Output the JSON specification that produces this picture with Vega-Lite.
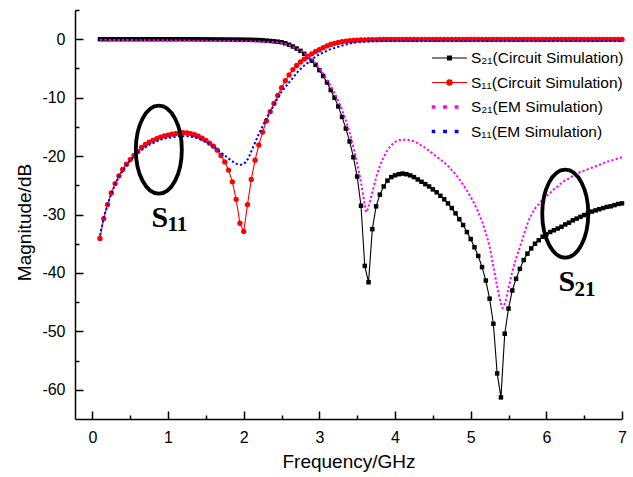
{
"$schema":"https://vega.github.io/schema/vega-lite/v6.json",
"width":547,"height":409,
"autosize":{"type":"none"},
"padding":{"left":75,"top":10,"right":11,"bottom":58},
"config":{"view":{"stroke":null},"font":"Liberation Sans","axis":{"grid":false}},
"datasets":{
"curves":[
{"k":"c21","f":0.1,"v":0},{"k":"c21","f":0.15,"v":0},{"k":"c21","f":0.2,"v":0},{"k":"c21","f":0.25,"v":0},{"k":"c21","f":0.3,"v":0},{"k":"c21","f":0.35,"v":0},{"k":"c21","f":0.4,"v":0},{"k":"c21","f":0.45,"v":0},{"k":"c21","f":0.5,"v":0},{"k":"c21","f":0.55,"v":0},{"k":"c21","f":0.6,"v":0},{"k":"c21","f":0.65,"v":0},{"k":"c21","f":0.7,"v":0},{"k":"c21","f":0.75,"v":0},{"k":"c21","f":0.8,"v":0},{"k":"c21","f":0.85,"v":0},{"k":"c21","f":0.9,"v":0},{"k":"c21","f":0.95,"v":0},{"k":"c21","f":1.0,"v":0},{"k":"c21","f":1.05,"v":0},{"k":"c21","f":1.1,"v":0},{"k":"c21","f":1.15,"v":0},{"k":"c21","f":1.2,"v":0},{"k":"c21","f":1.25,"v":0},{"k":"c21","f":1.3,"v":0},{"k":"c21","f":1.35,"v":-0.01},{"k":"c21","f":1.4,"v":-0.01},{"k":"c21","f":1.45,"v":-0.02},{"k":"c21","f":1.5,"v":-0.02},{"k":"c21","f":1.55,"v":-0.03},{"k":"c21","f":1.6,"v":-0.03},{"k":"c21","f":1.65,"v":-0.04},{"k":"c21","f":1.7,"v":-0.04},{"k":"c21","f":1.75,"v":-0.05},{"k":"c21","f":1.8,"v":-0.05},{"k":"c21","f":1.85,"v":-0.06},{"k":"c21","f":1.9,"v":-0.06},{"k":"c21","f":1.95,"v":-0.07},{"k":"c21","f":2.0,"v":-0.08},{"k":"c21","f":2.05,"v":-0.09},{"k":"c21","f":2.1,"v":-0.1},{"k":"c21","f":2.15,"v":-0.12},{"k":"c21","f":2.2,"v":-0.15},{"k":"c21","f":2.25,"v":-0.19},{"k":"c21","f":2.3,"v":-0.24},{"k":"c21","f":2.35,"v":-0.3},{"k":"c21","f":2.4,"v":-0.36},{"k":"c21","f":2.45,"v":-0.43},{"k":"c21","f":2.5,"v":-0.52},{"k":"c21","f":2.55,"v":-0.7},{"k":"c21","f":2.6,"v":-0.95},{"k":"c21","f":2.65,"v":-1.25},{"k":"c21","f":2.7,"v":-1.6},{"k":"c21","f":2.75,"v":-2.0},{"k":"c21","f":2.8,"v":-2.5},{"k":"c21","f":2.85,"v":-3.05},{"k":"c21","f":2.9,"v":-3.7},{"k":"c21","f":2.95,"v":-4.4},{"k":"c21","f":3.0,"v":-5.3},{"k":"c21","f":3.05,"v":-6.3},{"k":"c21","f":3.1,"v":-7.4},{"k":"c21","f":3.15,"v":-8.7},{"k":"c21","f":3.2,"v":-10.0},{"k":"c21","f":3.25,"v":-11.5},{"k":"c21","f":3.3,"v":-13.3},{"k":"c21","f":3.35,"v":-15.3},{"k":"c21","f":3.4,"v":-17.5},{"k":"c21","f":3.45,"v":-20.2},{"k":"c21","f":3.5,"v":-23.5},{"k":"c21","f":3.55,"v":-28.5},{"k":"c21","f":3.6,"v":-38.8},{"k":"c21","f":3.65,"v":-41.6},{"k":"c21","f":3.7,"v":-32.5},{"k":"c21","f":3.75,"v":-28.6},{"k":"c21","f":3.8,"v":-26.6},{"k":"c21","f":3.85,"v":-25.2},{"k":"c21","f":3.9,"v":-24.2},{"k":"c21","f":3.95,"v":-23.6},{"k":"c21","f":4.0,"v":-23.3},{"k":"c21","f":4.05,"v":-23.1},{"k":"c21","f":4.1,"v":-23.0},{"k":"c21","f":4.15,"v":-23.1},{"k":"c21","f":4.2,"v":-23.3},{"k":"c21","f":4.25,"v":-23.6},{"k":"c21","f":4.3,"v":-24.0},{"k":"c21","f":4.35,"v":-24.4},{"k":"c21","f":4.4,"v":-24.8},{"k":"c21","f":4.45,"v":-25.2},{"k":"c21","f":4.5,"v":-25.7},{"k":"c21","f":4.55,"v":-26.2},{"k":"c21","f":4.6,"v":-26.8},{"k":"c21","f":4.65,"v":-27.4},{"k":"c21","f":4.7,"v":-28.1},{"k":"c21","f":4.75,"v":-28.9},{"k":"c21","f":4.8,"v":-29.8},{"k":"c21","f":4.85,"v":-30.8},{"k":"c21","f":4.9,"v":-31.8},{"k":"c21","f":4.95,"v":-33.0},{"k":"c21","f":5.0,"v":-34.2},{"k":"c21","f":5.05,"v":-35.6},{"k":"c21","f":5.1,"v":-37.1},{"k":"c21","f":5.15,"v":-39.0},{"k":"c21","f":5.2,"v":-41.3},{"k":"c21","f":5.25,"v":-44.4},{"k":"c21","f":5.3,"v":-48.7},{"k":"c21","f":5.35,"v":-57.2},{"k":"c21","f":5.4,"v":-61.3},{"k":"c21","f":5.45,"v":-50.4},{"k":"c21","f":5.5,"v":-46.1},{"k":"c21","f":5.55,"v":-43.0},{"k":"c21","f":5.6,"v":-41.0},{"k":"c21","f":5.65,"v":-39.3},{"k":"c21","f":5.7,"v":-37.8},{"k":"c21","f":5.75,"v":-36.7},{"k":"c21","f":5.8,"v":-35.8},{"k":"c21","f":5.85,"v":-35.0},{"k":"c21","f":5.9,"v":-34.4},{"k":"c21","f":5.95,"v":-33.8},{"k":"c21","f":6.0,"v":-33.4},{"k":"c21","f":6.05,"v":-33.0},{"k":"c21","f":6.1,"v":-32.7},{"k":"c21","f":6.15,"v":-32.4},{"k":"c21","f":6.2,"v":-32.1},{"k":"c21","f":6.25,"v":-31.7},{"k":"c21","f":6.3,"v":-31.4},{"k":"c21","f":6.35,"v":-31.0},{"k":"c21","f":6.4,"v":-30.7},{"k":"c21","f":6.45,"v":-30.4},{"k":"c21","f":6.5,"v":-30.1},{"k":"c21","f":6.55,"v":-29.8},{"k":"c21","f":6.6,"v":-29.5},{"k":"c21","f":6.65,"v":-29.3},{"k":"c21","f":6.7,"v":-29.1},{"k":"c21","f":6.75,"v":-28.9},{"k":"c21","f":6.8,"v":-28.7},{"k":"c21","f":6.85,"v":-28.6},{"k":"c21","f":6.9,"v":-28.4},{"k":"c21","f":6.95,"v":-28.2},{"k":"c21","f":7.0,"v":-28.1},
{"k":"c11","f":0.1,"v":-34.1},{"k":"c11","f":0.15,"v":-30.7},{"k":"c11","f":0.2,"v":-28.3},{"k":"c11","f":0.25,"v":-26.3},{"k":"c11","f":0.3,"v":-24.7},{"k":"c11","f":0.35,"v":-23.4},{"k":"c11","f":0.4,"v":-22.3},{"k":"c11","f":0.45,"v":-21.4},{"k":"c11","f":0.5,"v":-20.6},{"k":"c11","f":0.55,"v":-19.9},{"k":"c11","f":0.6,"v":-19.2},{"k":"c11","f":0.65,"v":-18.5},{"k":"c11","f":0.7,"v":-18.0},{"k":"c11","f":0.75,"v":-17.6},{"k":"c11","f":0.8,"v":-17.3},{"k":"c11","f":0.85,"v":-17.0},{"k":"c11","f":0.9,"v":-16.75},{"k":"c11","f":0.95,"v":-16.55},{"k":"c11","f":1.0,"v":-16.4},{"k":"c11","f":1.05,"v":-16.25},{"k":"c11","f":1.1,"v":-16.15},{"k":"c11","f":1.15,"v":-16.05},{"k":"c11","f":1.2,"v":-16.0},{"k":"c11","f":1.25,"v":-16.05},{"k":"c11","f":1.3,"v":-16.15},{"k":"c11","f":1.35,"v":-16.35},{"k":"c11","f":1.4,"v":-16.6},{"k":"c11","f":1.45,"v":-16.95},{"k":"c11","f":1.5,"v":-17.3},{"k":"c11","f":1.55,"v":-17.8},{"k":"c11","f":1.6,"v":-18.3},{"k":"c11","f":1.65,"v":-19.0},{"k":"c11","f":1.7,"v":-19.9},{"k":"c11","f":1.75,"v":-21.0},{"k":"c11","f":1.8,"v":-22.4},{"k":"c11","f":1.85,"v":-24.4},{"k":"c11","f":1.9,"v":-27.4},{"k":"c11","f":1.95,"v":-31.5},{"k":"c11","f":2.0,"v":-32.9},{"k":"c11","f":2.05,"v":-28.3},{"k":"c11","f":2.1,"v":-24.0},{"k":"c11","f":2.15,"v":-20.7},{"k":"c11","f":2.2,"v":-18.1},{"k":"c11","f":2.25,"v":-15.9},{"k":"c11","f":2.3,"v":-14.0},{"k":"c11","f":2.35,"v":-12.4},{"k":"c11","f":2.4,"v":-11.0},{"k":"c11","f":2.45,"v":-9.6},{"k":"c11","f":2.5,"v":-8.3},{"k":"c11","f":2.55,"v":-7.1},{"k":"c11","f":2.6,"v":-6.1},{"k":"c11","f":2.65,"v":-5.2},{"k":"c11","f":2.7,"v":-4.5},{"k":"c11","f":2.75,"v":-3.9},{"k":"c11","f":2.8,"v":-3.4},{"k":"c11","f":2.85,"v":-2.9},{"k":"c11","f":2.9,"v":-2.5},{"k":"c11","f":2.95,"v":-2.1},{"k":"c11","f":3.0,"v":-1.8},{"k":"c11","f":3.05,"v":-1.45},{"k":"c11","f":3.1,"v":-1.15},{"k":"c11","f":3.15,"v":-0.9},{"k":"c11","f":3.2,"v":-0.7},{"k":"c11","f":3.25,"v":-0.55},{"k":"c11","f":3.3,"v":-0.42},{"k":"c11","f":3.35,"v":-0.32},{"k":"c11","f":3.4,"v":-0.25},{"k":"c11","f":3.45,"v":-0.2},{"k":"c11","f":3.5,"v":-0.15},{"k":"c11","f":3.55,"v":-0.12},{"k":"c11","f":3.6,"v":-0.1},{"k":"c11","f":3.65,"v":-0.08},{"k":"c11","f":3.7,"v":-0.07},{"k":"c11","f":3.75,"v":-0.06},{"k":"c11","f":3.8,"v":-0.05},{"k":"c11","f":3.85,"v":-0.05},{"k":"c11","f":3.9,"v":-0.05},{"k":"c11","f":3.95,"v":-0.05},{"k":"c11","f":4.0,"v":-0.05},{"k":"c11","f":4.05,"v":-0.05},{"k":"c11","f":4.1,"v":-0.05},{"k":"c11","f":4.15,"v":-0.05},{"k":"c11","f":4.2,"v":-0.05},{"k":"c11","f":4.25,"v":-0.05},{"k":"c11","f":4.3,"v":-0.05},{"k":"c11","f":4.35,"v":-0.05},{"k":"c11","f":4.4,"v":-0.05},{"k":"c11","f":4.45,"v":-0.05},{"k":"c11","f":4.5,"v":-0.05},{"k":"c11","f":4.55,"v":-0.05},{"k":"c11","f":4.6,"v":-0.05},{"k":"c11","f":4.65,"v":-0.05},{"k":"c11","f":4.7,"v":-0.05},{"k":"c11","f":4.75,"v":-0.05},{"k":"c11","f":4.8,"v":-0.05},{"k":"c11","f":4.85,"v":-0.05},{"k":"c11","f":4.9,"v":-0.05},{"k":"c11","f":4.95,"v":-0.05},{"k":"c11","f":5.0,"v":-0.05},{"k":"c11","f":5.05,"v":-0.05},{"k":"c11","f":5.1,"v":-0.05},{"k":"c11","f":5.15,"v":-0.05},{"k":"c11","f":5.2,"v":-0.05},{"k":"c11","f":5.25,"v":-0.05},{"k":"c11","f":5.3,"v":-0.05},{"k":"c11","f":5.35,"v":-0.05},{"k":"c11","f":5.4,"v":-0.05},{"k":"c11","f":5.45,"v":-0.05},{"k":"c11","f":5.5,"v":-0.05},{"k":"c11","f":5.55,"v":-0.05},{"k":"c11","f":5.6,"v":-0.05},{"k":"c11","f":5.65,"v":-0.05},{"k":"c11","f":5.7,"v":-0.05},{"k":"c11","f":5.75,"v":-0.05},{"k":"c11","f":5.8,"v":-0.05},{"k":"c11","f":5.85,"v":-0.05},{"k":"c11","f":5.9,"v":-0.05},{"k":"c11","f":5.95,"v":-0.05},{"k":"c11","f":6.0,"v":-0.05},{"k":"c11","f":6.05,"v":-0.05},{"k":"c11","f":6.1,"v":-0.05},{"k":"c11","f":6.15,"v":-0.05},{"k":"c11","f":6.2,"v":-0.05},{"k":"c11","f":6.25,"v":-0.05},{"k":"c11","f":6.3,"v":-0.05},{"k":"c11","f":6.35,"v":-0.05},{"k":"c11","f":6.4,"v":-0.05},{"k":"c11","f":6.45,"v":-0.05},{"k":"c11","f":6.5,"v":-0.05},{"k":"c11","f":6.55,"v":-0.05},{"k":"c11","f":6.6,"v":-0.05},{"k":"c11","f":6.65,"v":-0.05},{"k":"c11","f":6.7,"v":-0.05},{"k":"c11","f":6.75,"v":-0.05},{"k":"c11","f":6.8,"v":-0.05},{"k":"c11","f":6.85,"v":-0.05},{"k":"c11","f":6.9,"v":-0.05},{"k":"c11","f":6.95,"v":-0.05},{"k":"c11","f":7.0,"v":-0.05},
{"k":"e21","f":0.1,"v":-0.1},{"k":"e21","f":0.5,"v":-0.15},{"k":"e21","f":1.0,"v":-0.2},{"k":"e21","f":1.5,"v":-0.28},{"k":"e21","f":2.0,"v":-0.35},{"k":"e21","f":2.2,"v":-0.4},{"k":"e21","f":2.3,"v":-0.45},{"k":"e21","f":2.4,"v":-0.5},{"k":"e21","f":2.45,"v":-0.55},{"k":"e21","f":2.5,"v":-0.62},{"k":"e21","f":2.55,"v":-0.8},{"k":"e21","f":2.6,"v":-1.0},{"k":"e21","f":2.65,"v":-1.3},{"k":"e21","f":2.7,"v":-1.6},{"k":"e21","f":2.75,"v":-2.0},{"k":"e21","f":2.8,"v":-2.4},{"k":"e21","f":2.85,"v":-2.9},{"k":"e21","f":2.9,"v":-3.5},{"k":"e21","f":2.95,"v":-4.2},{"k":"e21","f":3.0,"v":-5.0},{"k":"e21","f":3.05,"v":-5.9},{"k":"e21","f":3.1,"v":-6.9},{"k":"e21","f":3.15,"v":-8.0},{"k":"e21","f":3.2,"v":-9.2},{"k":"e21","f":3.25,"v":-10.6},{"k":"e21","f":3.3,"v":-12.1},{"k":"e21","f":3.35,"v":-13.9},{"k":"e21","f":3.4,"v":-16.0},{"k":"e21","f":3.45,"v":-18.5},{"k":"e21","f":3.5,"v":-21.3},{"k":"e21","f":3.55,"v":-24.5},{"k":"e21","f":3.6,"v":-28.3},{"k":"e21","f":3.62,"v":-29.6},{"k":"e21","f":3.65,"v":-28.6},{"k":"e21","f":3.7,"v":-26.2},{"k":"e21","f":3.75,"v":-23.7},{"k":"e21","f":3.8,"v":-21.7},{"k":"e21","f":3.85,"v":-20.2},{"k":"e21","f":3.9,"v":-19.0},{"k":"e21","f":3.95,"v":-18.2},{"k":"e21","f":4.0,"v":-17.6},{"k":"e21","f":4.05,"v":-17.3},{"k":"e21","f":4.1,"v":-17.2},{"k":"e21","f":4.15,"v":-17.2},{"k":"e21","f":4.2,"v":-17.3},{"k":"e21","f":4.25,"v":-17.5},{"k":"e21","f":4.3,"v":-17.8},{"k":"e21","f":4.35,"v":-18.2},{"k":"e21","f":4.4,"v":-18.6},{"k":"e21","f":4.45,"v":-19.1},{"k":"e21","f":4.5,"v":-19.6},{"k":"e21","f":4.55,"v":-20.1},{"k":"e21","f":4.6,"v":-20.6},{"k":"e21","f":4.65,"v":-21.1},{"k":"e21","f":4.7,"v":-21.7},{"k":"e21","f":4.75,"v":-22.4},{"k":"e21","f":4.8,"v":-23.1},{"k":"e21","f":4.85,"v":-24.0},{"k":"e21","f":4.9,"v":-24.9},{"k":"e21","f":4.95,"v":-25.9},{"k":"e21","f":5.0,"v":-27.0},{"k":"e21","f":5.05,"v":-28.2},{"k":"e21","f":5.1,"v":-29.6},{"k":"e21","f":5.15,"v":-31.2},{"k":"e21","f":5.2,"v":-33.2},{"k":"e21","f":5.25,"v":-35.5},{"k":"e21","f":5.3,"v":-38.9},{"k":"e21","f":5.35,"v":-42.3},{"k":"e21","f":5.4,"v":-45.2},{"k":"e21","f":5.42,"v":-46.0},{"k":"e21","f":5.45,"v":-45.3},{"k":"e21","f":5.5,"v":-42.6},{"k":"e21","f":5.55,"v":-39.8},{"k":"e21","f":5.6,"v":-37.5},{"k":"e21","f":5.65,"v":-35.6},{"k":"e21","f":5.7,"v":-33.6},{"k":"e21","f":5.75,"v":-31.6},{"k":"e21","f":5.8,"v":-30.1},{"k":"e21","f":5.85,"v":-29.0},{"k":"e21","f":5.9,"v":-28.2},{"k":"e21","f":5.95,"v":-27.5},{"k":"e21","f":6.0,"v":-26.9},{"k":"e21","f":6.05,"v":-26.3},{"k":"e21","f":6.1,"v":-25.7},{"k":"e21","f":6.15,"v":-25.2},{"k":"e21","f":6.2,"v":-24.6},{"k":"e21","f":6.3,"v":-23.8},{"k":"e21","f":6.4,"v":-23.0},{"k":"e21","f":6.5,"v":-22.5},{"k":"e21","f":6.6,"v":-22.0},{"k":"e21","f":6.7,"v":-21.5},{"k":"e21","f":6.8,"v":-21.0},{"k":"e21","f":6.9,"v":-20.6},{"k":"e21","f":7.0,"v":-20.2},
{"k":"e11","f":0.1,"v":-33.6},{"k":"e11","f":0.15,"v":-30.6},{"k":"e11","f":0.2,"v":-28.4},{"k":"e11","f":0.25,"v":-26.5},{"k":"e11","f":0.3,"v":-24.9},{"k":"e11","f":0.35,"v":-23.6},{"k":"e11","f":0.4,"v":-22.5},{"k":"e11","f":0.45,"v":-21.6},{"k":"e11","f":0.5,"v":-20.8},{"k":"e11","f":0.55,"v":-20.1},{"k":"e11","f":0.6,"v":-19.5},{"k":"e11","f":0.65,"v":-19.0},{"k":"e11","f":0.7,"v":-18.5},{"k":"e11","f":0.75,"v":-18.1},{"k":"e11","f":0.8,"v":-17.8},{"k":"e11","f":0.85,"v":-17.5},{"k":"e11","f":0.9,"v":-17.2},{"k":"e11","f":0.95,"v":-17.0},{"k":"e11","f":1.0,"v":-16.9},{"k":"e11","f":1.05,"v":-16.8},{"k":"e11","f":1.1,"v":-16.7},{"k":"e11","f":1.15,"v":-16.6},{"k":"e11","f":1.2,"v":-16.6},{"k":"e11","f":1.25,"v":-16.6},{"k":"e11","f":1.3,"v":-16.7},{"k":"e11","f":1.35,"v":-16.8},{"k":"e11","f":1.4,"v":-17.0},{"k":"e11","f":1.45,"v":-17.3},{"k":"e11","f":1.5,"v":-17.6},{"k":"e11","f":1.55,"v":-18.0},{"k":"e11","f":1.6,"v":-18.4},{"k":"e11","f":1.65,"v":-18.9},{"k":"e11","f":1.7,"v":-19.4},{"k":"e11","f":1.75,"v":-19.9},{"k":"e11","f":1.8,"v":-20.4},{"k":"e11","f":1.85,"v":-20.9},{"k":"e11","f":1.9,"v":-21.3},{"k":"e11","f":1.95,"v":-21.5},{"k":"e11","f":2.0,"v":-21.3},{"k":"e11","f":2.05,"v":-20.6},{"k":"e11","f":2.1,"v":-19.2},{"k":"e11","f":2.15,"v":-17.7},{"k":"e11","f":2.2,"v":-16.2},{"k":"e11","f":2.25,"v":-14.9},{"k":"e11","f":2.3,"v":-13.5},{"k":"e11","f":2.35,"v":-12.4},{"k":"e11","f":2.4,"v":-11.3},{"k":"e11","f":2.45,"v":-10.1},{"k":"e11","f":2.5,"v":-9.0},{"k":"e11","f":2.55,"v":-8.2},{"k":"e11","f":2.6,"v":-7.4},{"k":"e11","f":2.65,"v":-6.6},{"k":"e11","f":2.7,"v":-5.8},{"k":"e11","f":2.75,"v":-5.1},{"k":"e11","f":2.8,"v":-4.5},{"k":"e11","f":2.85,"v":-4.0},{"k":"e11","f":2.9,"v":-3.5},{"k":"e11","f":2.95,"v":-3.0},{"k":"e11","f":3.0,"v":-2.6},{"k":"e11","f":3.05,"v":-2.3},{"k":"e11","f":3.1,"v":-2.0},{"k":"e11","f":3.15,"v":-1.7},{"k":"e11","f":3.2,"v":-1.5},{"k":"e11","f":3.25,"v":-1.3},{"k":"e11","f":3.3,"v":-1.1},{"k":"e11","f":3.35,"v":-0.9},{"k":"e11","f":3.4,"v":-0.75},{"k":"e11","f":3.45,"v":-0.62},{"k":"e11","f":3.5,"v":-0.52},{"k":"e11","f":3.6,"v":-0.42},{"k":"e11","f":3.7,"v":-0.36},{"k":"e11","f":3.8,"v":-0.33},{"k":"e11","f":3.9,"v":-0.31},{"k":"e11","f":4.0,"v":-0.3},{"k":"e11","f":4.5,"v":-0.3},{"k":"e11","f":5.0,"v":-0.3},{"k":"e11","f":5.5,"v":-0.3},{"k":"e11","f":6.0,"v":-0.3},{"k":"e11","f":6.5,"v":-0.3},{"k":"e11","f":7.0,"v":-0.3}
],
"ellipses":[{"f":0.878,"v":-18.9},{"f":6.25,"v":-29.85}],
"notes":[{"f":0.78,"v":-32.1,"t":"S","sub":"11"},{"f":6.16,"v":-43.1,"t":"S","sub":"21"}]
},
"data":{"name":"curves"},
"resolve":{"axis":{"x":"independent","y":"independent"}},
"layer":[
{"transform":[{"filter":"datum.k==='c21' || datum.k==='c11'"}],
 "mark":{"type":"line","strokeWidth":1.1},
 "encoding":{
  "x":{"field":"f","type":"quantitative","scale":{"domain":[-0.23,7],"nice":false,"zero":false},
   "axis":{"title":"Frequency/GHz","values":[0,1,2,3,4,5,6,7],"tickSize":-8,"tickWidth":1.5,"tickColor":"#000","domainColor":"#000","domainWidth":1.5,"labelPadding":18,"labelFont":"Liberation Sans","labelFontSize":16,"labelColor":"#000","labelFlush":false,"labelOverlap":false,"titleFont":"Liberation Sans","titleFontSize":19,"titleFontWeight":"normal","titleColor":"#000","titleBaseline":"alphabetic","titleY":48.5}},
  "y":{"field":"v","type":"quantitative","scale":{"domain":[-65,5],"nice":false,"zero":false},
   "axis":{"title":"Magnitude/dB","values":[-60,-50,-40,-30,-20,-10,0],"labelExpr":"toString(datum.value)","tickSize":-8,"tickWidth":1.5,"tickColor":"#000","domainColor":"#000","domainWidth":1.5,"labelPadding":18,"labelFont":"Liberation Sans","labelFontSize":16,"labelColor":"#000","labelFlush":false,"labelOverlap":false,"titleFont":"Liberation Sans","titleFontSize":19,"titleFontWeight":"normal","titleColor":"#000","titleBaseline":"alphabetic","titleAlign":"center","titleAngle":-90,"titleX":-45,"titleY":212}},
  "color":{"field":"k","type":"nominal","scale":{"domain":["c21","c11","e21","e11"],"range":["#000000","#ff0000","#ff00ff","#0000ff"]},
   "legend":{"title":null,"orient":"none","legendX":356,"legendY":37,"padding":0,"direction":"vertical","columns":1,"symbolSize":1225,"symbolStrokeWidth":1.2,"clipHeight":22,"rowPadding":2.5,"labelOffset":3,"labelFont":"Liberation Sans","labelFontSize":15.5,"labelColor":"#000","labelLimit":400,
    "labelExpr":"datum.value==='c21'?'S\u2082\u2081(Circuit Simulation)':datum.value==='c11'?'S\u2081\u2081(Circuit Simulation)':datum.value==='e21'?'S\u2082\u2081(EM Simulation)':'S\u2081\u2081(EM Simulation)'",
    "encode":{"symbols":{"update":{
      "shape":{"signal":"datum.value==='c21'?'M-1,0H1M-0.11,-0.11H0.11V0.11H-0.11Z':datum.value==='c11'?'M-1,0H1M0.15,0A0.15,0.15 0 1,1 -0.15,0A0.15,0.15 0 1,1 0.15,0Z':'M-0.98,-0.06H-0.85V0.06H-0.98ZM-0.33,-0.06H-0.18V0.06H-0.33ZM0.33,-0.06H0.48V0.06H0.33Z'"},
      "size":{"value":1225},
      "stroke":{"scale":"color","field":"value"},
      "fill":{"scale":"color","field":"value"},
      "strokeDash":{"value":[]},
      "opacity":{"value":1},
      "strokeWidth":{"value":1.2}}}}}}
 }},
{"transform":[{"filter":"datum.k==='c21'"}],
 "mark":{"type":"point","shape":"square","filled":true,"size":20,"color":"#000000","opacity":1},
 "encoding":{
  "x":{"field":"f","type":"quantitative","axis":{"orient":"bottom","values":[0.5,1.5,2.5,3.5,4.5,5.5,6.5],"tickSize":-4,"tickWidth":1.5,"tickColor":"#000","domain":false,"labels":false,"title":null}},
  "y":{"field":"v","type":"quantitative","axis":{"orient":"left","values":[-55,-45,-35,-25,-15,-5,5],"tickSize":-4,"tickWidth":1.5,"tickColor":"#000","domain":false,"labels":false,"title":null}}}},
{"transform":[{"filter":"datum.k==='c11'"}],
 "mark":{"type":"point","shape":"circle","filled":true,"size":28,"color":"#ff0000","opacity":1},
 "encoding":{"x":{"field":"f","type":"quantitative","axis":null},"y":{"field":"v","type":"quantitative","axis":null}}},
{"transform":[{"filter":"datum.k==='e21' || datum.k==='e11'"}],
 "mark":{"type":"line","strokeWidth":2,"strokeDash":[2.2,2.2],"interpolate":"monotone"},
 "encoding":{"x":{"field":"f","type":"quantitative","axis":null},"y":{"field":"v","type":"quantitative","axis":null},
  "color":{"field":"k","type":"nominal"}}},
{"data":{"name":"ellipses"},
 "mark":{"type":"point","shape":"M0,-1C0.289,-1 0.523,-0.552 0.523,0C0.523,0.552 0.289,1 0,1C-0.289,1 -0.523,0.552 -0.523,0C-0.523,-0.552 -0.289,-1 0,-1Z","filled":false,"size":7744,"stroke":"#000000","strokeWidth":3.8,"opacity":1},
 "encoding":{"x":{"field":"f","type":"quantitative","axis":null},"y":{"field":"v","type":"quantitative","axis":null}}},
{"data":{"name":"notes"},
 "mark":{"type":"text","font":"Liberation Serif","fontWeight":"bold","fontSize":30,"align":"left","baseline":"alphabetic","color":"#000"},
 "encoding":{"x":{"field":"f","type":"quantitative","axis":null},"y":{"field":"v","type":"quantitative","axis":null},"text":{"field":"t"}}},
{"data":{"name":"notes"},
 "mark":{"type":"text","font":"Liberation Serif","fontWeight":"bold","fontSize":21,"align":"left","baseline":"alphabetic","color":"#000","dx":16,"dy":4.5},
 "encoding":{"x":{"field":"f","type":"quantitative","axis":null},"y":{"field":"v","type":"quantitative","axis":null},"text":{"field":"sub"}}}
]
}
